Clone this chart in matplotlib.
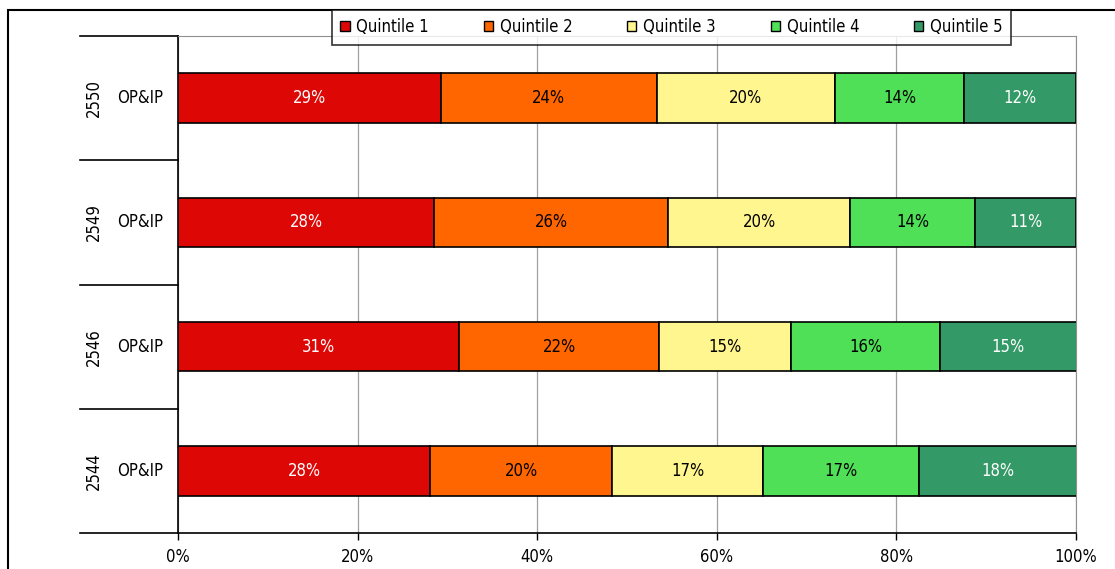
import matplotlib.pyplot as plt
from matplotlib.patches import Rectangle
from matplotlib.transforms import blended_transform_factory

plt.rcParams['font.family'] = ['DejaVu Sans']
plt.rcParams['font.stretch'] = 'condensed'

years = ['2544', '2546', '2549', '2550']
group = 'OP&IP'
quintiles = ['Quintile 1', 'Quintile 2', 'Quintile 3', 'Quintile 4', 'Quintile 5']
# share of each quintile (percent), one list per quintile, ordered like years
q1 = [28.1, 31.3, 28.5, 29.3]
q2 = [20.2, 22.3, 26.1, 24.0]
q3 = [16.9, 14.7, 20.2, 19.9]
q4 = [17.3, 16.5, 14.0, 14.3]
q5 = [17.6, 15.3, 11.2, 12.5]
shares = [q1, q2, q3, q4, q5]

colors = ['#DD0806', '#FF6600', '#FFF68F', '#4FE058', '#339966']
text_colors = ['white', 'black', 'black', 'black', 'white']
FS = 12

W, H = 1115, 569
fig = plt.figure(figsize=(W / 100, H / 100), dpi=100)
ax = fig.add_axes([178 / W, 36 / H, 898 / W, 497 / H])

ypos = list(range(len(years)))
left = [0.0] * len(years)
for vals, c, tc, name in zip(shares, colors, text_colors, quintiles):
    bars = ax.barh(ypos, vals, left=left, height=0.4, color=c,
                   edgecolor='black', linewidth=1.2, label=name, zorder=3)
    for b, v in zip(bars, vals):
        ax.text(b.get_x() + b.get_width() / 2, b.get_y() + b.get_height() / 2,
                '%.0f%%' % v, ha='center', va='center', color=tc,
                fontsize=FS, zorder=4)
    left = [l + v for l, v in zip(left, vals)]

ax.set_xlim(0, 100)
ax.set_ylim(-0.5, len(years) - 0.5)
ax.set_xticks([0, 20, 40, 60, 80, 100])
ax.set_xticklabels(['%d%%' % t for t in [0, 20, 40, 60, 80, 100]], fontsize=FS)
ax.tick_params(axis='x', direction='out', length=5, width=1, pad=6)
ax.set_yticks([])
ax.grid(axis='x', color='#A0A0A0', linewidth=0.9, zorder=0)

ax.spines['left'].set_color('black')
ax.spines['bottom'].set_color('black')
ax.spines['left'].set_linewidth(1.2)
ax.spines['bottom'].set_linewidth(1.2)
ax.spines['top'].set_color('#909090')
ax.spines['right'].set_color('#909090')

# two-level category axis on the left
trans = blended_transform_factory(ax.transAxes, ax.transData)
x_out = -98 / 898
for k in range(len(years) + 1):
    ax.plot([x_out, 0], [k - 0.5, k - 0.5], color='black', linewidth=1.2,
            transform=trans, clip_on=False)
for y, yr in zip(ypos, years):
    ax.text(-84 / 898, y, yr, rotation=90, ha='center', va='center',
            fontsize=FS, transform=trans)
    ax.text(-38 / 898, y, group, ha='center', va='center',
            fontsize=FS, transform=trans)

leg = fig.legend(loc='upper center', bbox_to_anchor=(671.5 / W, 1 - 10 / H),
                 borderaxespad=0, ncol=5, fontsize=12, frameon=True,
                 fancybox=False, edgecolor='black', handlelength=0.55,
                 handleheight=0.55, handletextpad=0.4, columnspacing=3.3,
                 borderpad=0.5)
leg.get_frame().set_linewidth(1.2)
for h in leg.legend_handles:
    h.set_linewidth(1.0)

# outer chart border
fig.add_artist(Rectangle((8 / W, -0.1), 1.2, 1 - 10 / H + 0.1,
                         transform=fig.transFigure, fill=False,
                         edgecolor='black', linewidth=1.5))

fig.savefig('out.png', dpi=100)
